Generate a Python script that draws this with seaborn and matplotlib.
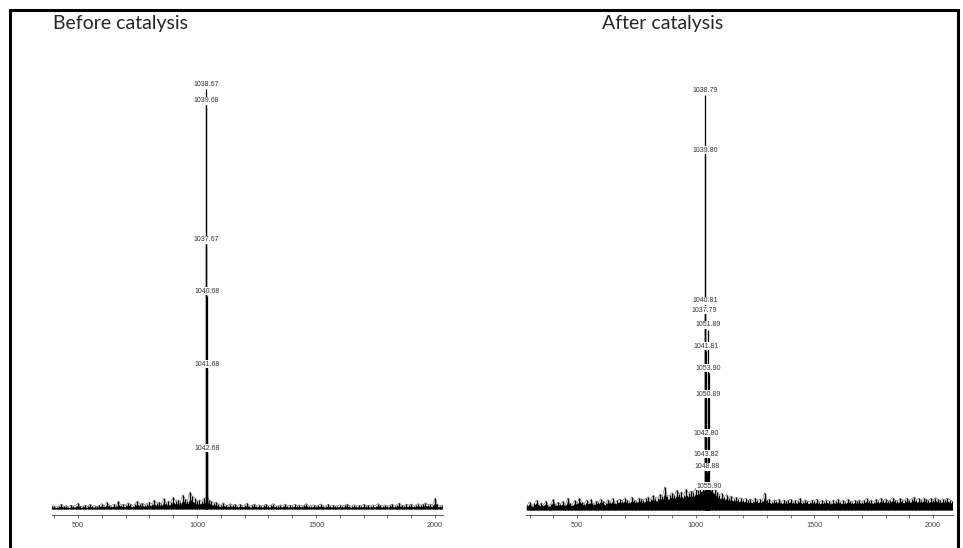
import numpy as np
import pandas as pd
import seaborn as sns
import matplotlib
matplotlib.use("Agg")
import matplotlib.pyplot as plt
from matplotlib.patches import Rectangle
from matplotlib.ticker import MultipleLocator

sns.set_theme(style="white")
plt.rcParams["font.family"] = ["Liberation Sans", "DejaVu Sans"]

# ---- MALDI spectra: labelled isotope peaks (m/z, relative intensity %) ----
before_mz = [1037.67, 1038.67, 1039.68, 1040.68, 1041.68, 1042.68]
before_int = [62.9, 100.0, 96.0, 50.7, 33.3, 13.3]

after_mz = [1037.79, 1038.79, 1039.80, 1040.81, 1041.81, 1042.80,
            1043.82, 1048.88, 1050.89, 1051.89, 1053.90, 1055.90]
after_int = [47.0, 100.0, 85.5, 49.2, 38.3, 17.3,
             12.3, 9.2, 26.7, 43.4, 33.0, 4.6]

# ---- baseline trace, sampled every 10 m/z ----
before_noise_start = 390
before_noise = [
    0.6, 0.8, 0.5, 0.7, 1.2, 0.6, 0.8, 0.5, 0.9, 0.7,
    0.8, 1.4, 0.6, 0.7, 0.9, 0.6, 1.1, 0.7, 0.8, 0.6,
    0.9, 1.3, 0.7, 1.6, 1.0, 0.8, 1.2, 0.7, 1.8, 1.0,
    1.1, 0.9, 1.5, 1.2, 0.8, 1.3, 1.9, 1.1, 1.4, 1.0,
    1.3, 1.6, 1.2, 2.1, 1.4, 1.7, 1.1, 2.5, 1.5, 1.8,
    1.6, 2.8, 1.9, 2.2, 1.7, 3.4, 2.4, 1.9, 4.0, 3.1,
    2.6, 1.8, 2.2, 2.0, 2.5, 3.0, 2.2, 1.9, 1.4, 1.6,
    1.2, 0.9, 1.5, 1.0, 0.8, 1.3, 0.9, 1.1, 0.7, 1.2,
    0.8, 1.0, 1.4, 0.7, 0.9, 1.2, 0.8, 1.0, 0.7, 0.9,
    1.1, 0.7, 0.9, 1.3, 0.8, 0.7, 1.0, 0.8, 1.2, 0.7,
    0.9, 0.8, 1.1, 0.7, 1.0, 0.8, 0.9, 1.3, 0.7, 0.8,
    1.0, 0.7, 0.9, 1.2, 0.8, 0.7, 1.1, 0.8, 0.9, 0.7,
    0.8, 1.0, 0.7, 0.9, 1.2, 0.8, 0.7, 1.0, 0.8, 0.9,
    0.7, 1.1, 0.8, 0.9, 0.7, 1.0, 0.8, 1.3, 0.9, 0.7,
    1.0, 0.8, 0.9, 1.2, 0.7, 1.0, 1.4, 0.9, 0.8, 1.1,
    0.9, 1.2, 0.8, 1.0, 1.3, 0.9, 1.1, 1.5, 1.0, 1.2,
    0.9, 2.6, 1.1, 0.8, 1.0,
]

after_noise_start = 290
after_noise = [
    1.2, 2.0, 1.0, 1.6, 2.4, 1.1, 1.8, 1.3, 2.2, 1.0,
    1.5, 2.6, 1.2, 1.9, 1.4, 2.1, 1.1, 2.8, 1.6, 1.3,
    2.3, 1.7, 2.9, 2.0, 1.5, 2.4, 1.8, 2.6, 1.4, 2.2,
    1.9, 2.7, 2.1, 1.6, 2.5, 2.0, 2.8, 1.8, 2.3, 2.6,
    2.2, 2.9, 2.4, 2.0, 3.1, 2.5, 2.2, 3.0, 2.6, 2.4,
    2.8, 3.2, 2.6, 3.5, 3.0, 2.9, 3.8, 3.3, 5.6, 3.4,
    3.6, 4.2, 3.5, 4.8, 3.9, 4.4, 3.7, 5.0, 4.1, 4.6,
    4.3, 5.2, 4.8, 5.8, 6.2, 6.0, 5.5, 6.4, 5.9, 5.1,
    4.4, 3.6, 4.0, 3.2, 3.7, 2.9, 3.4, 2.7, 3.1, 2.6,
    3.0, 2.5, 2.8, 2.3, 2.7, 2.2, 2.9, 2.4, 2.6, 2.1,
    4.2, 2.3, 2.6, 2.0, 2.5, 2.2, 2.7, 1.9, 2.4, 2.1,
    2.3, 2.6, 2.0, 2.4, 2.1, 2.8, 1.9, 2.5, 2.2, 2.0,
    2.4, 2.1, 2.6, 1.9, 2.3, 2.0, 2.5, 2.2, 1.8, 2.4,
    2.1, 2.6, 2.0, 2.3, 1.9, 2.7, 2.2, 2.0, 2.4, 2.1,
    2.5, 2.0, 2.3, 2.8, 2.1, 2.4, 2.0, 2.6, 2.2, 2.9,
    2.3, 2.7, 2.1, 2.5, 3.0, 2.4, 2.2, 2.8, 2.5, 2.3,
    2.9, 2.4, 2.7, 3.1, 2.5, 2.8, 2.3, 3.0, 2.6, 2.4,
    2.8, 2.5, 3.0, 2.6, 2.3, 2.7, 2.4, 2.9, 2.5, 2.2,
]

x_tick_labels = [500, 1000, 1500, 2000]
titles = ["Before catalysis", "After catalysis"]

W, H = 963, 548
fig = plt.figure(figsize=(W / 100, H / 100), dpi=100)


def px_box(x0, x1, y_top, y_bot):
    return [x0 / W, 1 - y_bot / H, (x1 - x0) / W, (y_bot - y_top) / H]


def draw_spectrum(ax, mz, inten, noise_start, noise, band):
    noise_df = pd.DataFrame({
        "mz": noise_start + 10 * np.arange(len(noise)),
        "intensity": noise,
    })
    # dense baseline band with spiky tops
    ax.fill_between(noise_df["mz"], 0, noise_df["intensity"] * band,
                    color="black", lw=0)
    ax.vlines(noise_df["mz"], 0, noise_df["intensity"], color="black", lw=1.0)
    sns.lineplot(data=noise_df, x="mz", y="intensity", ax=ax,
                 color="black", lw=0.4, estimator=None, alpha=0.6)
    # labelled peaks
    ax.vlines(mz, 0, inten, color="black", lw=0.9, zorder=3)
    for m, v in zip(mz, inten):
        ax.annotate(f"{m:.2f}", (m, v), xytext=(0, 1.0), textcoords="offset points",
                    ha="center", va="bottom", fontsize=5.0, color="#333333",
                    zorder=5,
                    bbox=dict(boxstyle="square,pad=0.05", fc="white", ec="none"))


def style_axis(ax, xlim, ylim):
    ax.set_xlim(*xlim)
    ax.set_ylim(*ylim)
    ax.set_xticks(x_tick_labels)
    ax.set_xticklabels([str(t) for t in x_tick_labels])
    ax.xaxis.set_minor_locator(MultipleLocator(100))
    ax.tick_params(axis="x", which="both", direction="out", length=2.5,
                   width=0.6, color="#666666", labelsize=5.2,
                   labelcolor="#444444", pad=2.5, bottom=True)
    ax.set_yticks([])
    ax.set_xlabel("")
    ax.set_ylabel("")
    for side in ["left", "right", "top"]:
        ax.spines[side].set_visible(False)
    ax.spines["bottom"].set_color("#555555")
    ax.spines["bottom"].set_linewidth(0.7)
    ax.patch.set_alpha(0)


ax1 = fig.add_axes(px_box(52, 443, 70, 515))
draw_spectrum(ax1, before_mz, before_int, before_noise_start, before_noise, 0.6)
style_axis(ax1, (390.8, 2033.6), (-1.43, 104.5))

ax2 = fig.add_axes(px_box(526, 953, 70, 515))
draw_spectrum(ax2, after_mz, after_int, after_noise_start, after_noise, 0.75)
style_axis(ax2, (285, 2084), (-1.2, 106.0))

fig.text(120 / W, 1 - 23 / H, titles[0], ha="center", va="center",
         fontsize=14, family=["Lato", "DejaVu Sans"])
fig.text(663 / W, 1 - 23 / H, titles[1], ha="center", va="center",
         fontsize=14, family=["Lato", "DejaVu Sans"])

# outer frame
fig.add_artist(Rectangle((10 / W, -0.05), (958 - 10) / W, 1.05 - 10 / H,
                         transform=fig.transFigure, fill=False,
                         edgecolor="black", lw=2.2))

fig.savefig("out.png", dpi=100)
